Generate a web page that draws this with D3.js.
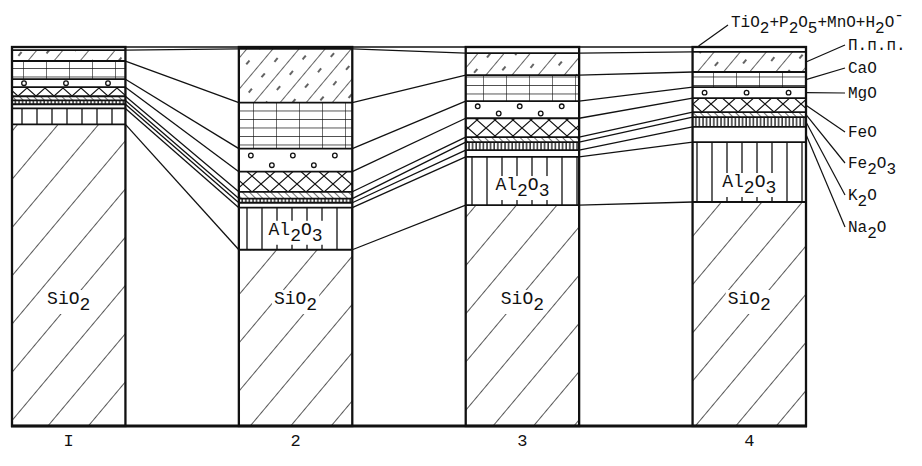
<!DOCTYPE html>
<html>
<head>
<meta charset="utf-8">
<script src="https://cdn.jsdelivr.net/npm/d3@7"></script>
<style>
  body { margin: 0; background: #fff; }
  text { font-family: "Liberation Mono", "DejaVu Sans Mono", monospace; font-size: 16px; fill: #111; }
  .in-bar { font-size: 18px; }
</style>
</head>
<body>
<div id="chart"></div>
<script>
// Chemical composition of samples, wt.% (stacked from the bottom)

//_____ DATA _____
const samples = [ 'I', '2', '3', '4' ];
const keys = [ 'SiO2', 'Al2O3', 'Na2O', 'K2O', 'Fe2O3', 'FeO', 'MgO', 'CaO', 'ppp', 'minor' ];

const SiO2  = [ 79.6, 46.5, 58.3, 59.1 ];
const Al2O3 = [ 4.2, 11.1, 12.7, 15.8 ];
const Na2O  = [ 1.1, 1.3, 1.8, 4.0 ];
const K2O   = [ 1.0, 1.1, 2.1, 2.6 ];
const Fe2O3 = [ 1.1, 1.8, 1.3, 1.3 ];
const FeO   = [ 2.4, 5.3, 5.0, 3.7 ];
const MgO   = [ 2.1, 6.1, 4.5, 2.9 ];
const CaO   = [ 4.8, 12.1, 6.9, 4.0 ];
const ppp   = [ 2.9, 14.2, 5.8, 5.3 ];   // loss on ignition
const minor = [ 0.8, 0.5, 1.6, 1.3 ];    // TiO2+P2O5+MnO+H2O-

const series = [ SiO2, Al2O3, Na2O, K2O, Fe2O3, FeO, MgO, CaO, ppp, minor ];

//>>> legend names ('^' = raised sign, digits = subscripts)
const legendNames = {
  minor: 'TiO2+P2O5+MnO+H2O^-',
  ppp: 'П.п.п.',
  CaO: 'CaO',
  MgO: 'MgO',
  FeO: 'FeO',
  Fe2O3: 'Fe2O3',
  K2O: 'K2O',
  Na2O: 'Na2O'
};


//_____ LAYOUT _____
const W = 922, H = 466;
const legendX = 848;
const legendY = { minor: 27, ppp: 50, CaO: 73, MgO: 98, FeO: 137, Fe2O3: 168, K2O: 200, Na2O: 232 };

const x = d3.scaleBand().domain( samples ).range( [ 12, 806 ] ).paddingInner( 0.5 );
const y = d3.scaleLinear().domain( [ 0, 100 ] ).range( [ 426, 47 ] );
const bw = x.bandwidth();

const table = samples.map( ( s, i ) => {
  const row = { sample: s };
  keys.forEach( ( k, j ) => row[ k ] = series[ j ][ i ] );
  return row;
} );
const stacked = d3.stack().keys( keys )( table );


//_____ SVG _____
const svg = d3.select( '#chart' ).append( 'svg' )
  .attr( 'width', W ).attr( 'height', H );

svg.append( 'rect' ).attr( 'width', W ).attr( 'height', H ).attr( 'fill', '#fff' );


//_____ HATCH PATTERNS _____
const defs = svg.append( 'defs' );
const ink = '#111';

function pattern ( id, w, h, transform ) {
  const p = defs.append( 'pattern' )
    .attr( 'id', id )
    .attr( 'patternUnits', 'userSpaceOnUse' )
    .attr( 'width', w ).attr( 'height', h );
  if ( transform ) p.attr( 'patternTransform', transform );
  p.append( 'rect' ).attr( 'width', w ).attr( 'height', h ).attr( 'fill', '#fff' );
  return p;
}

//>>> SiO2: sparse diagonals
pattern( 'p-SiO2', 31, 10, 'rotate(40)' )
  .append( 'path' ).attr( 'd', 'M0,0 V10' ).attr( 'stroke', ink ).attr( 'stroke-width', 1.4 );

//>>> Al2O3: vertical lines
pattern( 'p-Al2O3', 15, 10 )
  .append( 'path' ).attr( 'd', 'M7,0 V10' ).attr( 'stroke', ink ).attr( 'stroke-width', 1.3 );

//>>> Na2O: blank
pattern( 'p-Na2O', 10, 10 );

//>>> K2O: dense vertical lines
pattern( 'p-K2O', 3.6, 10 )
  .append( 'path' ).attr( 'd', 'M1,0 V10' ).attr( 'stroke', ink ).attr( 'stroke-width', 1.3 );

//>>> Fe2O3: dense back-diagonals
pattern( 'p-Fe2O3', 5, 10, 'rotate(-45)' )
  .append( 'path' ).attr( 'd', 'M0,0 V10' ).attr( 'stroke', ink ).attr( 'stroke-width', 1.2 );

//>>> FeO: cross hatch
pattern( 'p-FeO', 18, 16 )
  .append( 'path' ).attr( 'd', 'M0,0 L18,16 M18,0 L0,16' ).attr( 'stroke', ink ).attr( 'stroke-width', 1.2 );

//>>> MgO: blank ground, circles drawn per band below
pattern( 'p-MgO', 10, 10 );

//>>> CaO: brick grid
pattern( 'p-CaO', 23, 8.5 )
  .append( 'path' ).attr( 'd', 'M0,0 H23 M0,0 V8.5' ).attr( 'stroke', ink ).attr( 'stroke-width', 1.2 );

//>>> п.п.п.: diagonals with dashes
pattern( 'p-ppp', 20, 20, 'rotate(40)' )
  .append( 'path' ).attr( 'd', 'M0,0 V20 M10,6 V11' ).attr( 'stroke', ink ).attr( 'stroke-width', 1.3 );

//>>> minor oxides: blank
pattern( 'p-minor', 10, 10 );


//_____ LAYERS _____
const layers = svg.append( 'g' ).selectAll( 'g' )
  .data( stacked )
  .enter().append( 'g' )
  .attr( 'fill', d => `url(#p-${d.key})` );

layers.selectAll( 'rect' )
  .data( d => d )
  .enter().append( 'rect' )
  .attr( 'x', d => x( d.data.sample ) )
  .attr( 'y', d => y( d[ 1 ] ) )
  .attr( 'width', bw )
  .attr( 'height', d => y( d[ 0 ] ) - y( d[ 1 ] ) );

//>>> MgO circles: one row, or two staggered rows in a tall band
const mgLayer = stacked.find( l => l.key === 'MgO' );
const dots = [];
mgLayer.forEach( d => {
  const x0 = x( d.data.sample ), top = y( d[ 1 ] ), bot = y( d[ 0 ] );
  const h = bot - top;
  const rows = h > 16 ? [ top + h * 0.3, top + h * 0.72 ] : [ ( top + bot ) / 2 ];
  rows.forEach( ( ry, r ) => {
    for ( let cx = x0 + 12 + r * 21; cx < x0 + bw - 4; cx += 42 ) dots.push( { cx, cy: ry } );
  } );
} );
svg.append( 'g' ).selectAll( 'circle' )
  .data( dots )
  .enter().append( 'circle' )
  .attr( 'cx', d => d.cx ).attr( 'cy', d => d.cy ).attr( 'r', 2.3 )
  .attr( 'fill', 'none' ).attr( 'stroke', ink ).attr( 'stroke-width', 1.3 );


//_____ LABELS IN BARS _____
function chem ( sel, str ) {
  const parts = str.match( /\d+|\^.|[^\d^]+/g );
  let shift = 0;
  parts.forEach( p => {
    let t = p, dy;
    if ( /^\d+$/.test( p ) ) { dy = 6 - shift; shift = 6; }
    else if ( p[ 0 ] === '^' ) { t = p.slice( 1 ); dy = -7 - shift; shift = -7; }
    else { dy = -shift; shift = 0; }
    sel.append( 'tspan' ).attr( 'dy', dy ).text( t );
  } );
}

function barLabel ( cx, by, str ) {
  const g = svg.append( 'g' );
  const bg = g.append( 'rect' ).attr( 'fill', '#fff' );
  const t = g.append( 'text' ).attr( 'class', 'in-bar' )
    .attr( 'x', cx ).attr( 'y', by ).attr( 'text-anchor', 'middle' );
  chem( t, str );
  const b = t.node().getBBox();
  bg.attr( 'x', b.x - 2 ).attr( 'y', b.y + 1 ).attr( 'width', b.width + 4 ).attr( 'height', b.height - 2 );
}

samples.forEach( ( s, i ) => {
  const cx = x( s ) + bw / 2;
  barLabel( cx, 304, 'SiO2' );
  const alTop = y( SiO2[ i ] + Al2O3[ i ] ), alBot = y( SiO2[ i ] );
  if ( alBot - alTop > 30 ) barLabel( cx, alBot - 15, 'Al2O3' );
} );


//_____ LAYER BOUNDARIES _____
svg.append( 'g' ).selectAll( 'g' )
  .data( stacked )
  .enter().append( 'g' )
  .selectAll( 'line' )
  .data( d => d )
  .enter().append( 'line' )
  .attr( 'x1', d => x( d.data.sample ) )
  .attr( 'x2', d => x( d.data.sample ) + bw )
  .attr( 'y1', d => y( d[ 1 ] ) )
  .attr( 'y2', d => y( d[ 1 ] ) )
  .attr( 'stroke', ink ).attr( 'stroke-width', 1.8 );

//>>> bar outlines
svg.append( 'g' ).selectAll( 'rect' )
  .data( samples )
  .enter().append( 'rect' )
  .attr( 'x', d => x( d ) )
  .attr( 'y', y( 100 ) )
  .attr( 'width', bw )
  .attr( 'height', y( 0 ) - y( 100 ) )
  .attr( 'fill', 'none' )
  .attr( 'stroke', ink ).attr( 'stroke-width', 2.3 );


//_____ CONNECTORS BETWEEN COLUMNS _____
const links = [];
stacked.forEach( layer => {
  for ( let i = 0; i < samples.length - 1; i++ ) {
    links.push( {
      x1: x( samples[ i ] ) + bw, y1: y( layer[ i ][ 1 ] ),
      x2: x( samples[ i + 1 ] ), y2: y( layer[ i + 1 ][ 1 ] )
    } );
  }
} );

svg.append( 'g' ).selectAll( 'line' )
  .data( links )
  .enter().append( 'line' )
  .attr( 'x1', d => d.x1 ).attr( 'y1', d => d.y1 )
  .attr( 'x2', d => d.x2 ).attr( 'y2', d => d.y2 )
  .attr( 'stroke', ink ).attr( 'stroke-width', 1.3 );

//>>> common base line
svg.append( 'line' )
  .attr( 'x1', x( samples[ 0 ] ) - 1 ).attr( 'x2', x( samples[ samples.length - 1 ] ) + bw + 1 )
  .attr( 'y1', y( 0 ) ).attr( 'y2', y( 0 ) )
  .attr( 'stroke', ink ).attr( 'stroke-width', 2.8 );


//_____ X AXIS (sample numbers) _____
const xAxis = svg.append( 'g' )
  .attr( 'transform', `translate(0, ${y( 0 )})` )
  .call( d3.axisBottom( x ).tickSize( 0 ).tickPadding( 8 ) );
xAxis.select( '.domain' ).remove();
xAxis.attr( 'font-family', null ).attr( 'font-size', null );
xAxis.selectAll( 'text' ).attr( 'fill', ink ).style( 'font-size', '17px' );


//_____ LEGEND WITH LEADERS _____
const last = samples.length - 1;
const x4 = x( samples[ last ] );

Object.keys( legendNames ).forEach( k => {
  const layer = stacked.find( l => l.key === k );
  const d = layer[ last ];
  const ly = legendY[ k ];
  let sx, sy, ex, ey, tx;
  if ( k === 'minor' ) {
    sx = x4 + 6; sy = y( d[ 1 ] ) - 1;
    ex = 728; ey = ly - 2; tx = 731;
  } else {
    sx = x4 + bw; sy = ( y( d[ 0 ] ) + y( d[ 1 ] ) ) / 2;
    ex = legendX - 3; ey = ly - 5; tx = legendX;
  }
  svg.append( 'line' )
    .attr( 'x1', sx ).attr( 'y1', sy ).attr( 'x2', ex ).attr( 'y2', ey )
    .attr( 'stroke', ink ).attr( 'stroke-width', 1.2 );
  const t = svg.append( 'text' ).attr( 'x', tx ).attr( 'y', ly );
  chem( t, legendNames[ k ] );
} );
</script>
</body>
</html>
